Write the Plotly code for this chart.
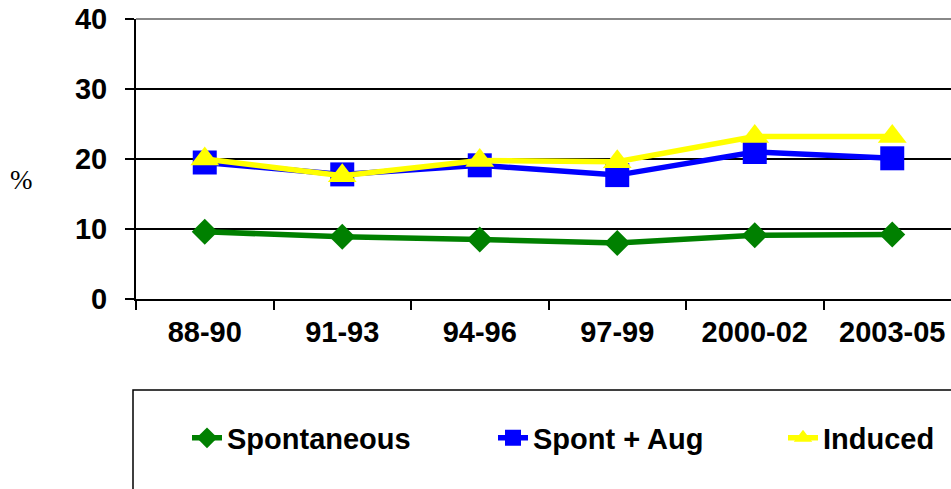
import plotly.graph_objects as go

categories = ["88-90", "91-93", "94-96", "97-99", "2000-02", "2003-05"]
spontaneous = [9.6, 8.9, 8.5, 8.0, 9.1, 9.2]
spont_aug = [19.5, 17.8, 19.1, 17.7, 21.0, 20.1]
induced = [20.0, 17.6, 19.8, 19.6, 23.2, 23.2]
y_ticks = [0, 10, 20, 30, 40]

W, H = 951, 489
ML, MT, MR = 136, 19, 0
PB = 299
MB = H - PB
PW = W - ML - MR
PH = PB - MT

def px_x(x):
    return (x - ML) / PW

def px_y(y):
    return (PB - y) / PH

xr_right = (PW / 137.5) - 0.5

fig = go.Figure()
fig.add_trace(go.Scatter(x=categories, y=spontaneous, name="Spontaneous", mode="lines+markers",
                         line=dict(color="#008000", width=5.5),
                         marker=dict(symbol="diamond", size=20, color="#008000"),
                         legend="legend", cliponaxis=False))
fig.add_trace(go.Scatter(x=categories, y=spont_aug, name="Spont + Aug", mode="lines+markers",
                         line=dict(color="#0000FF", width=5.5),
                         marker=dict(symbol="square", size=24, color="#0000FF"),
                         legend="legend2", cliponaxis=False))
fig.add_trace(go.Scatter(x=categories, y=induced, name="Induced", mode="lines+markers",
                         line=dict(color="#FFFF00", width=5.5),
                         marker=dict(symbol="triangle-up", size=25, color="#FFFF00"),
                         legend="legend3", cliponaxis=False))

FS = 29
legfont = dict(family="Liberation Sans, Arial", size=FS, color="black", weight="bold")
ly = px_y(438)
common = dict(orientation="h", yanchor="middle", xanchor="left", font=legfont,
              bgcolor="rgba(0,0,0,0)", borderwidth=0, itemwidth=30)

fig.update_layout(
    width=W, height=H,
    margin=dict(l=ML, r=MR, t=MT, b=MB),
    paper_bgcolor="white", plot_bgcolor="white",
    showlegend=True,
    legend=dict(x=px_x(187), y=ly, **common),
    legend2=dict(x=px_x(493), y=ly, **common),
    legend3=dict(x=px_x(783), y=ly, **common),
    xaxis=dict(
        type="category", range=[-0.5, xr_right],
        showline=True, linecolor="black", linewidth=2,
        ticks="outside", ticklen=9, tickwidth=2, tickcolor="black",
        tickson="boundaries", showgrid=False,
        tickfont=dict(family="Liberation Sans, Arial", size=FS, color="black", weight="bold"),
        ticklabelstandoff=6, ticklabeloverflow="allow",
    ),
    yaxis=dict(
        range=[0, 40], tickvals=y_ticks,
        showline=True, linecolor="black", linewidth=2,
        ticks="outside", ticklen=9, tickwidth=2, tickcolor="black",
        showgrid=True, gridcolor="black", gridwidth=2, zeroline=False,
        tickfont=dict(family="Liberation Sans, Arial", size=FS, color="black", weight="bold"),
        ticklabelstandoff=12, ticklabeloverflow="allow",
    ),
    annotations=[dict(text="%", x=px_x(21), y=px_y(180), xref="paper", yref="paper",
                      xanchor="center", yanchor="middle",
                      showarrow=False, font=dict(family="Liberation Serif, Times New Roman", size=27, color="black"))],
    shapes=[
        dict(type="line", xref="paper", yref="paper", x0=0, x1=1, y0=1, y1=1,
             line=dict(color="#888888", width=2), layer="above"),
        dict(type="rect", xref="paper", yref="paper", x0=px_x(133), x1=px_x(980),
             y0=px_y(510), y1=px_y(390), line=dict(color="black", width=1.5),
             fillcolor="rgba(0,0,0,0)", layer="below"),
    ],
)

fig.write_html(
    "out.html",
    config={"displayModeBar": False},
    post_script="document.body.style.margin='0';document.body.style.overflow='hidden';",
)
